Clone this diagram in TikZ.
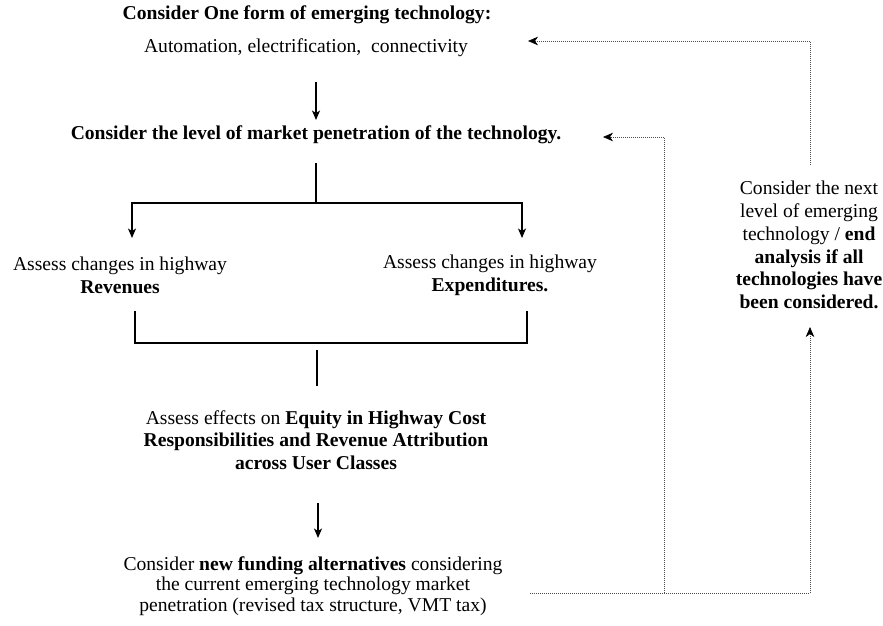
\documentclass[tikz,border=0pt]{standalone}
\usepackage{fontspec}
\setmainfont{Liberation Serif}
\usetikzlibrary{arrows.meta}
\begin{document}
\begin{tikzpicture}[x=1pt,y=-1pt,
  txt/.style={inner sep=0pt,align=center,font=\fontsize{19.6}{22.8}\selectfont},
  txttight/.style={inner sep=0pt,align=center,font=\fontsize{19.6}{20.8}\selectfont},
  solidarrow/.style={line width=1.1pt,-{Stealth[length=9.5pt,width=8pt,inset=2.5pt]}},
  solidline/.style={line width=1.1pt},
  dotline/.style={line width=1pt,densely dotted,black!70},
  dotarrow/.style={dotline,-{Stealth[length=10pt,width=8.5pt,inset=3pt,color=black,fill=black,line width=0.6pt]}}]
\useasboundingbox (0,0) rectangle (883,625);
% texts
\node[txt] (t1) at (307,15) {\textbf{Consider One form of emerging technology:}};
\node[txt] (t2) at (306,48) {Automation, electrification,\ \ connectivity};
\node[txt] (t3) at (316,135) {\textbf{Consider the level of market penetration of the technology.}};
\node[txt] (rev) at (120,275) {Assess changes in highway\\\textbf{Revenues}};
\node[txt] (exp) at (490,275) {Assess changes in highway\\\textbf{Expenditures.}};
\node[txt] (eq) at (316,440) {Assess effects on \textbf{Equity in Highway Cost}\\\textbf{Responsibilities and Revenue Attribution}\\\textbf{across User Classes}};
\node[txttight] (fund) at (313,586) {Consider \textbf{new funding alternatives} considering\\the current emerging technology market\\penetration (revised tax structure, VMT tax)};
\node[txt] (next) at (809,245) {Consider the next\\level of emerging\\technology / \textbf{end}\\\textbf{analysis if all}\\\textbf{technologies have}\\\textbf{been considered.}};
% coordinates
\coordinate (a1s) at (316,82);
\coordinate (a1e) at (316,120);
\coordinate (sp) at (316,163);
\coordinate (spj) at (316,203);
\coordinate (ljt) at (132,203);
\coordinate (rjt) at (522,203);
\coordinate (lje) at (132,238);
\coordinate (rje) at (522,238);
\coordinate (lbt) at (135,311);
\coordinate (lbb) at (135,343);
\coordinate (rbt) at (527,311);
\coordinate (rbb) at (527,343);
\coordinate (ms) at (317,350);
\coordinate (me) at (317,386);
\coordinate (a2s) at (318,503);
\coordinate (a2e) at (318,538);
\coordinate (ds) at (530,593);
\coordinate (dm) at (664,593);
\coordinate (dr) at (810,593);
\coordinate (dmt) at (664,137);
\coordinate (dmend) at (603,137);
\coordinate (nb) at (810,327);
\coordinate (nt) at (810,165);
\coordinate (ntr) at (810,41);
\coordinate (ntend) at (528,41);
% solid connectors
\draw[solidarrow] (a1s) -- (a1e);
\draw[solidline] (sp) -- (spj);
\draw[solidarrow] (spj) -- (ljt) -- (lje);
\draw[solidarrow] (spj) -- (rjt) -- (rje);
\draw[solidline] (lbt) -- (lbb) -- (rbb) -- (rbt);
\draw[solidline] (ms) -- (me);
\draw[solidarrow] (a2s) -- (a2e);
% dotted feedback
\draw[dotline] (ds) -- (dr);
\draw[dotarrow] (dm) -- (dmt) -- (dmend);
\draw[dotarrow] (dr) -- (nb);
\draw[dotarrow] (nt) -- (ntr) -- (ntend);
\end{tikzpicture}
\end{document}
